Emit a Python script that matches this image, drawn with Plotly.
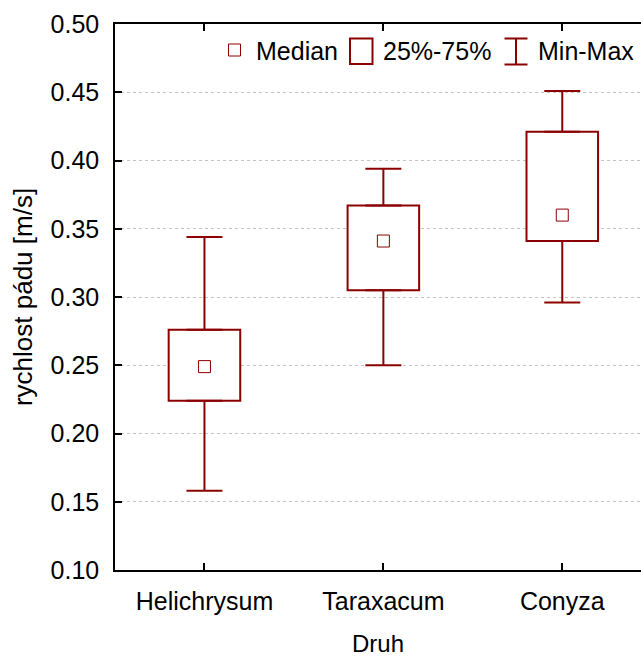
import plotly.graph_objects as go

# ---- data ----
categories = ["Helichrysum", "Taraxacum", "Conyza"]
mins = [0.158, 0.250, 0.296]
q1 = [0.224, 0.305, 0.341]
medians = [0.249, 0.341, 0.360]
q3 = [0.276, 0.367, 0.421]
maxs = [0.344, 0.394, 0.451]
y_ticks = [0.10, 0.15, 0.20, 0.25, 0.30, 0.35, 0.40, 0.45, 0.50]
legend_labels = ["Median", "25%-75%", "Min-Max"]
x_title = "Druh"
y_title = "rychlost pádu [m/s]"

RED = "#8b0000"
FONT = "Liberation Sans, Arial, sans-serif"
W, H = 641, 657
ML, MR, MT, MB = 115, 0, 24, 87

xpos = list(range(len(categories)))

fig = go.Figure()

# boxes (25%-75%)
fig.add_trace(go.Bar(
    x=xpos, base=q1, y=[b - a for a, b in zip(q1, q3)], width=0.4,
    marker=dict(color="white", line=dict(color=RED, width=2)),
    showlegend=False, hoverinfo="skip"))

# upper whiskers
fig.add_trace(go.Scatter(
    x=xpos, y=q3, mode="markers",
    marker=dict(size=1, color="rgba(0,0,0,0)"),
    error_y=dict(type="data", symmetric=False,
                 array=[m - q for q, m in zip(q3, maxs)],
                 arrayminus=[0] * len(q3), width=18, thickness=2, color=RED),
    showlegend=False, hoverinfo="skip"))

# lower whiskers
fig.add_trace(go.Scatter(
    x=xpos, y=q1, mode="markers",
    marker=dict(size=1, color="rgba(0,0,0,0)"),
    error_y=dict(type="data", symmetric=False,
                 array=[0] * len(q1),
                 arrayminus=[q - m for q, m in zip(q1, mins)], width=18, thickness=2, color=RED),
    showlegend=False, hoverinfo="skip"))

# medians
fig.add_trace(go.Scatter(
    x=xpos, y=medians, mode="markers",
    marker=dict(symbol="square-open", size=12, color=RED, line=dict(width=1, color=RED)),
    showlegend=False, hoverinfo="skip"))

# ---- manual legend (layout decoration) ----
pw = W - ML - MR
ph = H - MT - MB


def px(p):
    return (p - ML) / pw


def py(p):
    return (H - MB - p) / ph


shapes = [
    dict(type="rect", xref="paper", yref="paper",
         x0=px(228.5), x1=px(240.5), y0=py(56), y1=py(44),
         line=dict(color=RED, width=1)),
    dict(type="rect", xref="paper", yref="paper",
         x0=px(350), x1=px(372.5), y0=py(64), y1=py(38.5),
         line=dict(color=RED, width=2)),
    dict(type="path", xref="paper", yref="paper",
         path=(f"M{px(516)},{py(38.5)} L{px(516)},{py(64.5)} "
               f"M{px(504.5)},{py(38.5)} L{px(527.5)},{py(38.5)} "
               f"M{px(504.5)},{py(64.5)} L{px(527.5)},{py(64.5)}"),
         line=dict(color=RED, width=2)),
]
text_x = [254, 381, 536]
annotations = [
    dict(text=t, x=px(xx), y=py(51), xref="paper", yref="paper",
         xanchor="left", yanchor="middle", showarrow=False,
         font=dict(family=FONT, size=25, color="black"))
    for t, xx in zip(legend_labels, text_x)
]

fig.update_layout(
    width=W, height=H,
    margin=dict(l=ML, r=MR, t=MT, b=MB),
    paper_bgcolor="white", plot_bgcolor="white",
    font=dict(family=FONT, color="black"),
    showlegend=False, barmode="overlay",
    shapes=shapes, annotations=annotations,
    xaxis=dict(
        range=[-0.5, 2.44], tickvals=xpos, ticktext=categories,
        ticks="inside", ticklen=7, tickwidth=1.5, tickcolor="black",
        showline=True, linecolor="black", linewidth=1.5, mirror="ticks",
        showgrid=False, zeroline=False,
        tickfont=dict(size=25), ticklabelstandoff=8,
        title=dict(text=x_title, font=dict(size=24), standoff=25),
        automargin=False, fixedrange=True,
    ),
    yaxis=dict(
        range=[0.10, 0.50], tickvals=y_ticks, ticktext=[f"{v:.2f}" for v in y_ticks],
        ticks="inside", ticklen=7, tickwidth=1.5, tickcolor="black",
        showline=True, linecolor="black", linewidth=1.5, mirror=False,
        showgrid=True, gridcolor="#c4c4c4", griddash="dot", gridwidth=1,
        zeroline=False,
        tickfont=dict(size=25), ticklabelstandoff=9,
        title=dict(text=y_title, font=dict(size=26), standoff=10),
        automargin=False, fixedrange=True,
    ),
)

fig.write_html("out.html")
